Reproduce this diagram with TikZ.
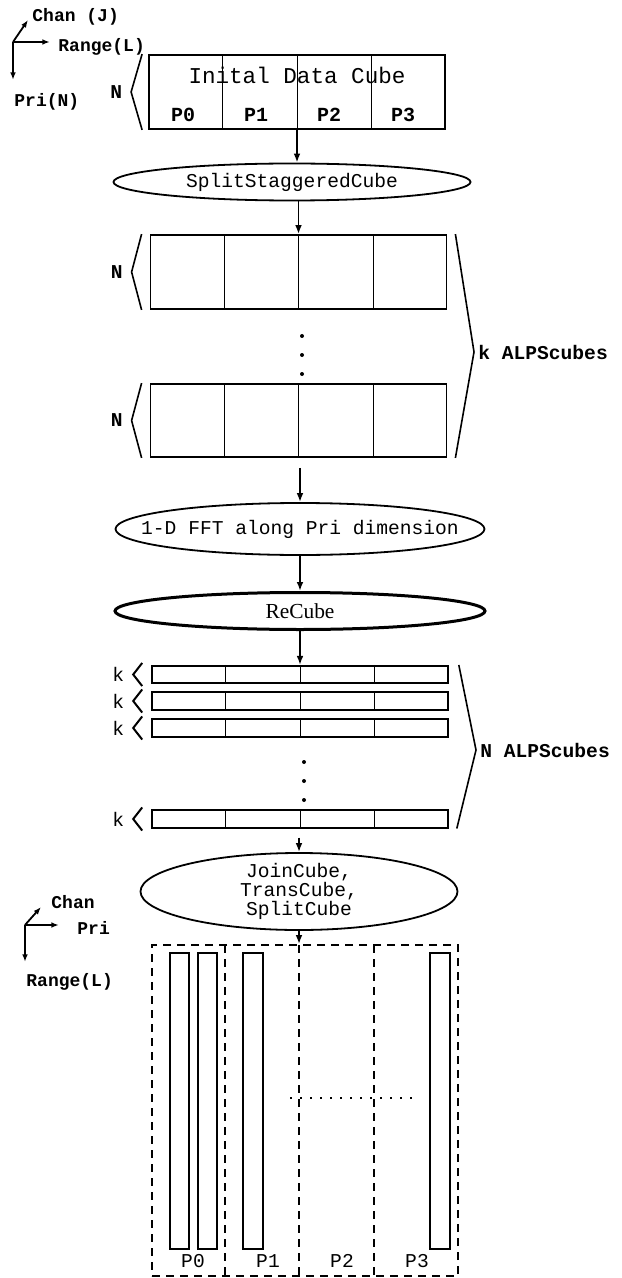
\documentclass[tikz,border=0pt]{standalone}
\usepackage{fontspec}
\setmainfont{Liberation Mono}
\newfontfamily\recubefont{Liberation Serif}
\usetikzlibrary{shapes.geometric, arrows.meta, calc, positioning}

\newcommand{\cubecells}[1]{%
    \foreach \f in {0.25,0.5,0.75}
        \draw ($(#1.north west)!\f!(#1.north east)$) -- ($(#1.south west)!\f!(#1.south east)$);
}

\begin{document}
\begin{tikzpicture}[x=0.5pt, y=-0.5pt,
    font=\fontsize{9.8}{11}\selectfont,
    cube/.style={draw, line width=0.9pt, minimum width=148pt, minimum height=37pt, inner sep=0pt},
    slab/.style={draw, line width=0.8pt, minimum width=148pt, minimum height=8.75pt, inner sep=0pt},
    stage/.style={draw, ellipse, line width=0.9pt, inner sep=0pt},
    arr/.style={-{Latex[length=4.5pt, width=3.4pt]}, line width=0.9pt},
    axis/.style={-{Latex[length=3.8pt, width=2.8pt]}, line width=0.9pt},
    brk/.style={line width=0.8pt},
    partbox/.style={draw, dash pattern=on 4pt off 3pt, line width=0.9pt},
    small/.style={font=\fontsize{9}{11}\bfseries}]

    \useasboundingbox (0,0) rectangle (621,1278);

    % axes, initial layout
    \coordinate (o1) at (13,42);
    \draw[axis] (o1) -- (28,20);
    \draw[axis] (o1) -- (50,42);
    \draw[axis] (o1) -- (13,80);
    \node[small, anchor=west, inner sep=0pt] (chanA) at (32,17) {Chan (J)};
    \node[small, anchor=west, inner sep=0pt] (rangeA) at (58,47) {Range(L)};
    \node[small, anchor=west, inner sep=0pt] (priA) at (14,102) {Pri(N)};

    \node[cube] (init) at (297,92) {};
    \cubecells{init}
    \node[font=\fontsize{11.3}{13}\selectfont] (title) at (297,75) {Inital Data Cube};
    \foreach \x/\n in {183/0,256/1,329/2,403/3}
        \node[font=\fontsize{10}{11}\bfseries] (top\n) at (\x,115) {P\n};
    \draw[brk] ([xshift=-3pt]init.north west) -- ([xshift=-8.5pt]init.west) coordinate (nA)
        -- ([xshift=-3pt]init.south west);
    \node[left=1pt of nA, font=\fontsize{9.8}{11}\bfseries] (nlabA) {N};

    \node[stage, minimum width=178.5pt, minimum height=18.5pt,
        label=center:{SplitStaggeredCube}] (split) at (292,182) {};
    \draw[arr] (init.south) -- (init.south |- split.north);

    % k ALPScubes
    \node[cube] (cubeA) at (298.5,272) {};
    \cubecells{cubeA}
    \node[cube, minimum height=36.5pt] (cubeB) at (298.5,420.5) {};
    \cubecells{cubeB}
    \draw[arr] (cubeA.north |- split.south) -- (cubeA.north);
    \foreach \c in {cubeA,cubeB} {
        \draw[brk] ([xshift=-4pt]\c.north west) -- ([xshift=-9pt]\c.west) coordinate (n\c)
            -- ([xshift=-4pt]\c.south west);
        \node[left=1pt of n\c, font=\fontsize{9.8}{11}\bfseries] (nlab\c) {N};
    }
    \foreach \y in {336,355,374}
        \fill (302,\y) circle (1pt);
    \coordinate (kbrace) at (474,352);
    \draw[brk] ([xshift=4pt]cubeA.north east) -- (kbrace) -- ([xshift=4pt]cubeB.south east);
    \node[right=2pt of kbrace, inner sep=0pt, font=\fontsize{9.8}{11}\bfseries] (klab) {k ALPScubes};

    \node[stage, minimum width=184.5pt, minimum height=26pt,
        label=center:{1-D FFT along Pri dimension}] (fft) at (300,529) {};
    \draw[arr] ([yshift=-5pt]cubeB.south -| fft.north) -- (fft.north);

    \node[stage, line width=1.5pt, minimum width=185pt, minimum height=18.5pt,
        label=center:{\recubefont\fontsize{10.7}{12}\selectfont ReCube}] (recube) at (300,611) {};
    \draw[arr] (fft.south) -- (recube.north);

    % N ALPScubes
    \foreach \n/\y in {A/674.5,B/701,C/728,D/819} {
        \node[slab] (row\n) at (300,\y) {};
        \cubecells{row\n}
        \draw[line width=1pt] ([xshift=-4.5pt, yshift=1pt]row\n.north west) -- ([xshift=-9pt]row\n.west) coordinate (k\n)
            -- ([xshift=-4.5pt, yshift=-1pt]row\n.south west);
        \node[left=1pt of k\n] (klab\n) {k};
    }
    \draw[arr] (recube.south) -- (rowA.north);
    \foreach \y in {762,781,800}
        \fill (304,\y) circle (1pt);
    \coordinate (nbrace) at (476,750);
    \draw[brk] ([xshift=5pt]rowA.north east) -- (nbrace) -- ([xshift=4pt]rowD.south east);
    \node[right=2pt of nbrace, inner sep=0pt, font=\fontsize{9.8}{11}\bfseries] (nlab) {N ALPScubes};

    \node[stage, minimum width=158.5pt, minimum height=38.5pt,
        label={[align=center, font=\fontsize{9.8}{9.6}\selectfont]center:{JoinCube,\\TransCube,\\SplitCube}}] (join) at (299,891.5) {};
    \draw[arr] ([yshift=-4.5pt]rowD.south -| join.north) -- (join.north);

    % transposed layout
    \coordinate (o2) at (25,925);
    \draw[axis] (o2) -- (41,907);
    \draw[axis] (o2) -- (59,925);
    \draw[axis] (o2) -- (25,962);
    \node[small, anchor=west, inner sep=0pt] (chanB) at (51,902) {Chan};
    \node[small, anchor=west, inner sep=0pt] (priB) at (77,928) {Pri};
    \node[small, anchor=west, inner sep=0pt] (rangeB) at (26,982) {Range(L)};

    \node[partbox, minimum width=153pt, minimum height=165.5pt, inner sep=0pt] (part) at (305,1110.5) {};
    \draw[arr] (join.south) -- (join.south |- part.north);
    \foreach \x in {225,299,374}
        \draw[partbox] (\x,945) -- (\x,1276);
    \foreach \a/\b in {170/189, 198/217, 243/263, 430/450}
        \draw[line width=0.9pt] (\a,953) rectangle (\b,1249);
    \draw[line width=0.9pt, dash pattern=on 0.9pt off 4.1pt] (290,1098) -- (412,1098);
    \foreach \x/\n in {193/0,268/1,342/2,417/3}
        \node (bot\n) at (\x,1261) {P\n};
\end{tikzpicture}
\end{document}
